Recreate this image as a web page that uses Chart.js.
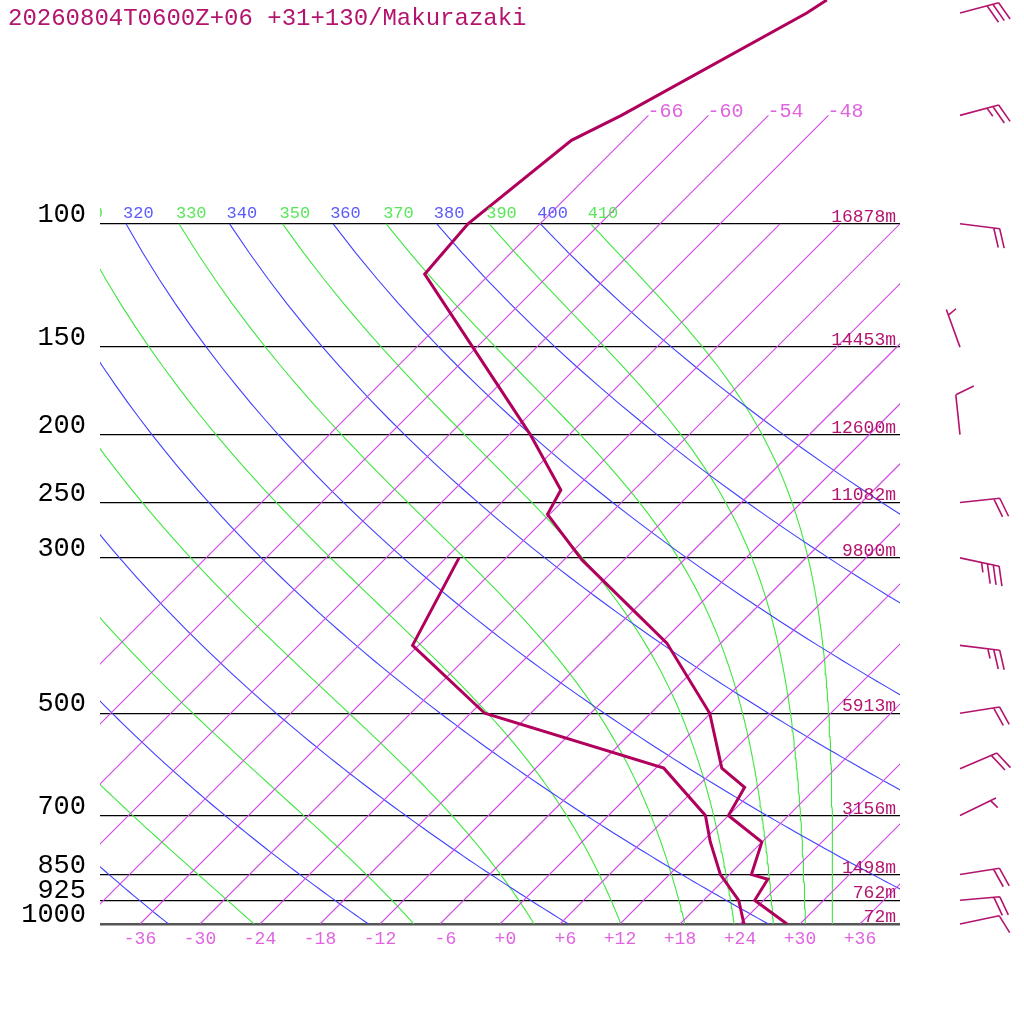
<!DOCTYPE html>
<html>
<head>
<meta charset="utf-8">
<script src="https://cdn.jsdelivr.net/npm/chart.js@4.4.1/dist/chart.umd.min.js"></script>
<style>
  html, body { margin: 0; padding: 0; background: #fff; }
  canvas { display: block; }
</style>
</head>
<body>
<canvas id="skewt" width="1024" height="1024"></canvas>
<script>
const title = '20260804T0600Z+06 +31+130/Makurazaki';

// temperature / dewpoint profile (hPa, degC)
const tempP = [1000, 925, 863, 850, 764, 700, 638, 599, 500, 397, 302, 260, 240, 200, 118, 100, 76, 70, 50, 47.9];
const tempT = [28.7, 23.1, 22.3, 20.2, 18.0, 12.0, 10.8, 6.6, -0.1, -11.4, -28.2, -36.2, -37.3, -45.9, -72.5, -73.2, -71.2, -68.7, -60.4, -59.7];
const dewP = [1000, 925, 850, 763, 700, 599, 500, 400, 300];
const dewT = [24.4, 21.5, 17.1, 12.8, 9.7, 0.8, -22.6, -36.6, -40.7];

// standard levels and their heights
const levelP = [100, 150, 200, 250, 300, 500, 700, 850, 925, 1000];
const levelH = [16878, 14453, 12600, 11082, 9800, 5913, 3156, 1498, 762, 72];

// winds (direction from, knots)
const windP = [50, 70, 100, 150, 200, 250, 300, 400, 500, 600, 700, 850, 925, 1000];
const windDir = [75, 75, 97, 340, 354, 84, 102, 97, 81, 67, 64, 81, 85, 78];
const windKt = [30, 25, 20, 5, 10, 20, 35, 25, 20, 20, 5, 20, 20, 10];

// background lines
const isotherms = [-66, -60, -54, -48, -42, -36, -30, -24, -18, -12, -6, 0, 6, 12, 18, 24, 30, 36];
const tempTicks = [-36, -30, -24, -18, -12, -6, 0, 6, 12, 18, 24, 30, 36];
const dryTheta = [240, 260, 280, 300, 320, 340, 360, 380, 400];
const moistThetaE = [250, 270, 290, 310, 330, 350, 370, 390, 410];

const SKEW = 70;       // degC of shift per decade of pressure
const P_TOP = 47.9;
const MONO = '"Liberation Mono", "DejaVu Sans Mono", monospace';
const DARK = '#b0005c';
const TXT = '#b4146e';
const ISO = '#d246e6';
const ISO_TXT = '#e064e0';
const BLUE = '#4040ff';
const GREEN = '#40e640';

const skewX = (t, p) => t + SKEW * Math.log10(1000 / p);

function dryT(theta, p) {
  return theta * Math.pow(p / 1000, 0.2857) - 273.15;
}
function thetaE(tk, p) {
  const tc = tk - 273.15;
  const e = 6.112 * Math.exp(17.67 * tc / (tc + 243.5));
  if (e >= p) return Infinity;
  const r = 622 * e / (p - e);
  return tk * Math.pow(1000 / p, 0.2854 * (1 - 0.00028 * r)) *
    Math.exp((3.376 / tk - 0.00254) * r * (1 + 0.00081 * r));
}
function moistT(the, p) {
  let lo = 150, hi = 340;
  for (let i = 0; i < 50; i++) {
    const mid = (lo + hi) / 2;
    if (thetaE(mid, p) > the) hi = mid; else lo = mid;
  }
  return (lo + hi) / 2 - 273.15;
}

const curveP = [];
for (let p = 1000; p >= 100; p -= 10) curveP.push(p);

const lineSet = (data, color, width) => ({
  data, borderColor: color, borderWidth: width, showLine: true,
  pointRadius: 0, fill: false, tension: 0
});

const datasets = [];
datasets.push(lineSet(tempP.map((p, i) => ({ x: skewX(tempT[i], p), y: p })), DARK, 3));
datasets.push(lineSet(dewP.map((p, i) => ({ x: skewX(dewT[i], p), y: p })), DARK, 3));
isotherms.forEach(t => {
  const top = t <= -48 ? 70 : 100;
  datasets.push(lineSet([{ x: skewX(t, 1000), y: 1000 }, { x: skewX(t, top), y: top }], ISO, 1.1));
});
dryTheta.forEach(th => {
  datasets.push(lineSet(curveP.map(p => ({ x: skewX(dryT(th, p), p), y: p })), BLUE, 1.1));
});
moistThetaE.forEach(th => {
  datasets.push(lineSet(curveP.map(p => ({ x: skewX(moistT(th, p), p), y: p })), GREEN, 1.1));
});

function drawBarb(ctx, x0, y0, dir, kt) {
  const a = dir * Math.PI / 180;
  const b = a + 70 * Math.PI / 180;
  const ux = Math.sin(a), uy = -Math.cos(a);
  const bx = Math.sin(b), by = -Math.cos(b);
  const L = 40, gap = 6;
  const tx = x0 + ux * L, ty = y0 + uy * L;
  ctx.beginPath();
  ctx.moveTo(x0, y0);
  ctx.lineTo(tx, ty);
  let full = Math.floor(kt / 10);
  const half = kt % 10 >= 5;
  let pos = (full === 0 && half) ? 1 : 0;
  for (let i = 0; i < full; i++, pos++) {
    const sx = tx - ux * gap * pos, sy = ty - uy * gap * pos;
    ctx.moveTo(sx, sy);
    ctx.lineTo(sx + bx * 20, sy + by * 20);
  }
  if (half) {
    const sx = tx - ux * gap * pos, sy = ty - uy * gap * pos;
    ctx.moveTo(sx, sy);
    ctx.lineTo(sx + bx * 10, sy + by * 10);
  }
  ctx.stroke();
}

const overlay = {
  id: 'overlay',
  afterDraw(chart) {
    const { ctx, chartArea: area, scales: { x, y } } = chart;
    const px = (t, p) => x.getPixelForValue(skewX(t, p));

    // adiabat labels along 100 hPa
    ctx.save();
    ctx.beginPath();
    ctx.rect(area.left, 0, chart.width - area.left, chart.height);
    ctx.clip();
    ctx.font = '17px ' + MONO;
    ctx.textAlign = 'left';
    ctx.textBaseline = 'alphabetic';
    const y100 = y.getPixelForValue(100);
    dryTheta.forEach(th => {
      ctx.fillStyle = '#5a5aff';
      ctx.fillText(String(th), px(dryT(th, 100), 100) - 3, y100 - 6);
    });
    moistThetaE.forEach(th => {
      ctx.fillStyle = '#5ae65a';
      ctx.fillText(String(th), px(moistT(th, 100), 100) - 3, y100 - 6);
    });
    ctx.restore();

    ctx.save();
    // isotherm labels at the top
    ctx.font = '20px ' + MONO;
    ctx.fillStyle = ISO_TXT;
    ctx.textAlign = 'left';
    isotherms.filter(t => t <= -48).forEach(t => {
      ctx.fillText(String(t), px(t, 70) - 1, y.getPixelForValue(70) + 2);
    });

    // heights
    ctx.font = '18px ' + MONO;
    ctx.fillStyle = TXT;
    ctx.textAlign = 'right';
    levelP.forEach((p, i) => {
      ctx.fillText(levelH[i] + 'm', area.right - 4, y.getPixelForValue(p) - 2);
    });

    // title
    ctx.font = '24px ' + MONO;
    ctx.textAlign = 'left';
    ctx.fillText(title, 8, 25);

    // wind barbs
    ctx.strokeStyle = TXT;
    ctx.lineWidth = 1.6;
    windP.forEach((p, i) => drawBarb(ctx, 960, y.getPixelForValue(p), windDir[i], windKt[i]));
    ctx.restore();
  }
};

new Chart(document.getElementById('skewt'), {
  type: 'scatter',
  data: { datasets },
  options: {
    responsive: false,
    animation: false,
    devicePixelRatio: 1,
    events: [],
    layout: { padding: { left: 0, right: 124, top: 0, bottom: 0 } },
    plugins: { legend: { display: false }, tooltip: { enabled: false } },
    scales: {
      x: {
        type: 'linear', min: -40, max: 40, bounds: 'data',
        grid: { display: false }, border: { display: false },
        afterBuildTicks: s => { s.ticks = tempTicks.map(v => ({ value: v })); },
        afterFit: s => { s.height = 100; s.paddingLeft = 0; s.paddingRight = 0; },
        ticks: {
          autoSkip: false, maxRotation: 0, padding: -4, color: ISO_TXT,
          font: { family: MONO, size: 18 },
          callback: v => ((v >= 0 ? '+' : '') + v).padStart(3, ' ')
        }
      },
      y: {
        type: 'logarithmic', reverse: true, min: P_TOP, max: 1000, bounds: 'data', position: 'left',
        grid: {
          color: ctx => ctx.tick && ctx.tick.value === 1000 ? '#555' : '#000',
          lineWidth: ctx => ctx.tick && ctx.tick.value === 1000 ? 2.5 : 1.3,
          drawTicks: false
        },
        border: { display: false },
        afterBuildTicks: s => { s.ticks = levelP.map(v => ({ value: v })); },
        afterFit: s => { s.width = 100; s.paddingTop = 0; s.paddingBottom = 0; },
        ticks: {
          autoSkip: false, padding: 14, labelOffset: -9, color: '#000',
          font: { family: MONO, size: 27 },
          callback: v => String(v)
        }
      }
    }
  },
  plugins: [overlay]
});
</script>
</body>
</html>
